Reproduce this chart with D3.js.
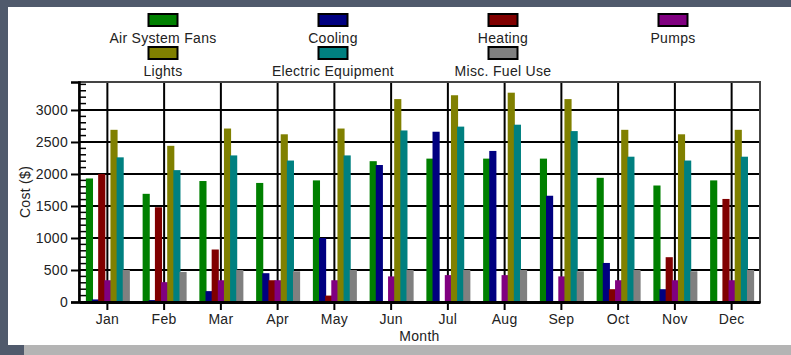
<!DOCTYPE html>
<html>
<head>
<meta charset="utf-8">
<script src="https://cdn.jsdelivr.net/npm/d3@7/dist/d3.min.js"></script>
<style>
  html, body { margin: 0; padding: 0; background: #505a6c; }
  svg { display: block; }
  text { font-family: "Liberation Sans", Arial, sans-serif; fill: #222; letter-spacing: 0.3px; }
</style>
</head>
<body>
<svg id="chart" width="791" height="355"></svg>
<script>
const months = ["Jan","Feb","Mar","Apr","May","Jun","Jul","Aug","Sep","Oct","Nov","Dec"];
const seriesNames = ["Air System Fans","Cooling","Heating","Pumps","Lights","Electric Equipment","Misc. Fuel Use"];
const seriesColors = ["#008000","#000080","#800000","#800080","#808000","#008080","#808080"];
const airSystemFans     = [1930,1690,1890,1860,1900,2200,2240,2240,2240,1940,1820,1900];
const cooling           = [40,30,170,450,1000,2140,2660,2360,1660,610,200,15];
const heating           = [2000,1480,820,340,100,0,0,0,15,200,700,1610];
const pumps             = [340,310,340,340,340,400,420,420,400,340,340,340];
const lights            = [2690,2440,2710,2620,2710,3170,3230,3270,3170,2690,2620,2690];
const electricEquipment = [2260,2060,2290,2210,2290,2680,2740,2770,2670,2270,2210,2270];
const miscFuelUse       = [500,470,500,480,500,500,500,500,480,500,480,500];
const yTicks = [0,500,1000,1500,2000,2500,3000];
const yMax = 3437;

const seriesValues = [airSystemFans, cooling, heating, pumps, lights, electricEquipment, miscFuelUse];

const svg = d3.select("#chart");
// panel + shadow strip
svg.append("rect").attr("x", 8).attr("y", 7).attr("width", 783).attr("height", 338).attr("fill", "#fff");
svg.append("rect").attr("x", 24).attr("y", 345).attr("width", 767).attr("height", 10).attr("fill", "#b4b4b4");

const L = 79, R = 760, T = 82, B = 302;
const x = d3.scaleBand().domain(months).range([L, R]).padding(0);
const y = d3.scaleLinear().domain([0, yMax]).range([B, T]);
const x1 = d3.scaleBand().domain(seriesNames).range([-21.5, 21.5]).padding(0);

// legend
const legendPos = seriesNames.map((n, i) => ({ name: n, color: seriesColors[i], col: i < 4 ? i : i - 4, row: i < 4 ? 0 : 1 }));
const lg = svg.append("g");
legendPos.forEach(d => {
  const cx = 163 + d.col * 170;
  const ty = 14 + d.row * 33;
  lg.append("rect").attr("x", cx - 14.5).attr("y", ty).attr("width", 29).attr("height", 12)
    .attr("fill", d.color).attr("stroke", "#000").attr("stroke-width", 2);
  lg.append("text").attr("x", cx).attr("y", ty + 28.5).attr("text-anchor", "middle")
    .attr("font-size", 14).text(d.name);
});

// gridlines
const grid = svg.append("g");
grid.selectAll("line.h").data(yTicks.filter(t => t > 0)).join("line")
  .attr("x1", L).attr("x2", R).attr("y1", d => y(d)).attr("y2", d => y(d))
  .attr("stroke", "#000").attr("stroke-width", 2);
grid.selectAll("line.v").data(months).join("line")
  .attr("x1", d => x(d) + x.bandwidth() / 2).attr("x2", d => x(d) + x.bandwidth() / 2)
  .attr("y1", T).attr("y2", B)
  .attr("stroke", "#000").attr("stroke-width", 2);

// bars
const bars = svg.append("g");
seriesValues.forEach((vals, si) => {
  bars.selectAll(null).data(vals).join("rect")
    .attr("x", (d, i) => x(months[i]) + x.bandwidth() / 2 + x1(seriesNames[si]))
    .attr("width", x1.bandwidth() + 1)
    .attr("y", d => y(d))
    .attr("height", d => B - y(d))
    .attr("fill", seriesColors[si]);
});

// frame
svg.append("rect").attr("x", L).attr("y", T).attr("width", R - L).attr("height", B - T)
  .attr("fill", "none").attr("stroke", "#444").attr("stroke-width", 2);

// minor ticks (inside)
const minor = d3.range(0, yMax, 100);
svg.append("g").selectAll("line").data(minor).join("line")
  .attr("x1", L).attr("x2", L + 7).attr("y1", d => y(d)).attr("y2", d => y(d))
  .attr("stroke", "#000").attr("stroke-width", 1.5);

// y axis
const yAxis = svg.append("g").attr("transform", `translate(${L},0)`)
  .call(d3.axisLeft(y).tickValues(yTicks).tickSize(8).tickPadding(3).tickFormat(d3.format("d")));
yAxis.select(".domain").attr("stroke", "#000").attr("stroke-width", 2.5);
yAxis.selectAll(".tick line").attr("stroke", "#000").attr("stroke-width", 2);
yAxis.selectAll("text").attr("font-size", 14).attr("fill", "#333").attr("font-family", "Liberation Sans, Arial, sans-serif");

// x axis
const xAxis = svg.append("g").attr("transform", `translate(0,${B})`)
  .call(d3.axisBottom(x).tickSize(8).tickSizeOuter(0).tickPadding(4));
xAxis.select(".domain").attr("stroke", "#000").attr("stroke-width", 3);
xAxis.selectAll(".tick line").attr("stroke", "#000").attr("stroke-width", 2);
xAxis.selectAll("text").attr("font-size", 14).attr("fill", "#333").attr("font-family", "Liberation Sans, Arial, sans-serif");

// axis titles
svg.append("text").attr("x", (L + R) / 2).attr("y", 341).attr("text-anchor", "middle")
  .attr("font-size", 14).attr("fill", "#333").text("Month");
svg.append("text").attr("transform", "translate(30,192) rotate(-90)").attr("text-anchor", "middle")
  .attr("font-size", 14).attr("fill", "#333").text("Cost ($)");
</script>
</body>
</html>
